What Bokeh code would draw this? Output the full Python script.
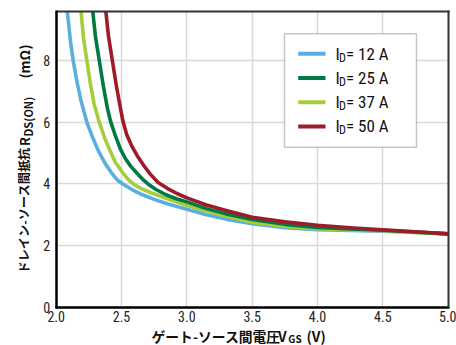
import numpy as np
from bokeh.plotting import figure
from bokeh.models import Range1d, FixedTicker, Label, BoxAnnotation, LinearAxis
from bokeh.embed import file_html
from bokeh.resources import INLINE

# ---------------- data ----------------
vgs_12 = [2.085, 2.11, 2.13, 2.16, 2.19, 2.235, 2.28, 2.32, 2.37, 2.42, 2.47, 2.51,
          2.58, 2.66, 2.75, 2.85, 3.0, 3.15, 3.3, 3.5, 3.75, 4.0, 4.25, 4.5, 4.75, 5.0]
rds_12 = [9.6, 8.6, 8.0, 7.3, 6.7, 6.0, 5.5, 5.1, 4.7, 4.38, 4.12, 4.0,
          3.82, 3.65, 3.5, 3.36, 3.18, 3.0, 2.86, 2.71, 2.58, 2.52, 2.49, 2.47, 2.43, 2.38]

vgs_37 = [2.19, 2.21, 2.235, 2.26, 2.29, 2.33, 2.37, 2.41, 2.45, 2.50, 2.55, 2.60,
          2.66, 2.73, 2.82, 2.92, 3.0, 3.15, 3.3, 3.5, 3.75, 4.0, 4.25, 4.5, 4.75, 5.0]
rds_37 = [9.6, 8.7, 8.0, 7.3, 6.6, 6.0, 5.5, 5.1, 4.72, 4.42, 4.15, 3.97,
          3.83, 3.71, 3.57, 3.42, 3.31, 3.12, 2.95, 2.76, 2.62, 2.55, 2.51, 2.48, 2.43, 2.38]

vgs_25 = [2.28, 2.30, 2.33, 2.36, 2.39, 2.415, 2.45, 2.49, 2.53, 2.57, 2.62, 2.66,
          2.70, 2.76, 2.84, 2.92, 3.0, 3.15, 3.3, 3.5, 3.75, 4.0, 4.25, 4.5, 4.75, 5.0]
rds_25 = [9.6, 8.8, 8.0, 7.2, 6.5, 6.05, 5.6, 5.15, 4.82, 4.58, 4.34, 4.16,
          4.01, 3.83, 3.65, 3.52, 3.42, 3.2, 3.03, 2.85, 2.69, 2.59, 2.54, 2.5, 2.44, 2.38]

vgs_50 = [2.38, 2.40, 2.43, 2.46, 2.49, 2.51, 2.54, 2.58, 2.62, 2.67, 2.72, 2.78,
          2.85, 2.92, 3.0, 3.15, 3.3, 3.5, 3.75, 4.0, 4.25, 4.5, 4.75, 5.0]
rds_50 = [9.6, 8.8, 8.0, 7.2, 6.5, 6.05, 5.6, 5.22, 4.92, 4.6, 4.32, 4.05,
          3.86, 3.7, 3.55, 3.32, 3.14, 2.92, 2.77, 2.66, 2.58, 2.51, 2.45, 2.38]

legend_currents = ["12 A", "25 A", "37 A", "50 A"]
x_ticks = [2.0, 2.5, 3.0, 3.5, 4.0, 4.5, 5.0]
x_tick_labels = ["2.0", "2.5", "3.0", "3.5", "4.0", "4.5", "5.0"]
y_ticks = [0, 2, 4, 6, 8]
y_tick_labels = ["0", "2", "4", "6", "8"]

# ---------------- styles / layout ----------------
C12, C25, C37, C50 = "#5AAEE0", "#007A45", "#A6CD39", "#9D1C2B"
legend_colors = [C12, C25, C37, C50]
LATIN = "Roboto Condensed"
CJK = "Noto Sans CJK JP"

PW, PH = 456, 345
X0, X1, Y0, Y1 = 2.0, 5.0, 0.0, 9.6
FL, FR, FT, FB = 55.7, 447.7, 11.0, 306.7  # data-box edges in pixels
xpp = (X1 - X0) / (FR - FL)
ypp = (Y1 - Y0) / (FB - FT)


def dx(px):  # pixel -> data x
    return X0 + (px - FL) * xpp


def dy(py):  # pixel -> data y
    return Y0 + (FB - py) * ypp


p = figure(width=PW, height=PH, output_backend="svg", toolbar_location=None,
           x_range=Range1d(X0 - FL * xpp, X1 + (PW - FR) * xpp),
           y_range=Range1d(Y0 - (PH - FB) * ypp, Y1 + FT * ypp),
           min_border=0)
p.background_fill_color = "white"
p.border_fill_color = "white"
p.outline_line_color = None

# main axes, fixed at the data box edges
p.xaxis.fixed_location = Y0
p.yaxis.fixed_location = X0
p.xaxis.bounds = (X0 - 1.2 * xpp, X1 + 1.0 * xpp)
p.yaxis.bounds = (Y0 - 1.2 * ypp, Y1 + 1.0 * ypp)
for ax in (p.xaxis, p.yaxis):
    ax.axis_line_color = "black"
    ax.axis_line_width = 2.5
    ax.major_tick_in = 0
    ax.major_tick_out = 0
    ax.minor_tick_in = 0
    ax.minor_tick_out = 0
    ax.major_label_text_font = LATIN
    ax.major_label_text_font_size = "14px"
    ax.major_label_text_color = "#222222"
p.xaxis.ticker = FixedTicker(ticks=x_ticks)
p.yaxis.ticker = FixedTicker(ticks=y_ticks)
p.xaxis.major_label_overrides = dict(zip(x_ticks, x_tick_labels))
p.yaxis.major_label_overrides = dict(zip(y_ticks, y_tick_labels))
p.xaxis.major_label_standoff = 4
p.yaxis.major_label_standoff = 6

# top / right border lines as label-less axes
top_ax = LinearAxis(fixed_location=Y1, bounds=(X0, X1 + 1.0 * xpp), ticker=FixedTicker(ticks=[]))
right_ax = LinearAxis(fixed_location=X1, bounds=(Y0, Y1 + 1.0 * ypp), ticker=FixedTicker(ticks=[]))
for ax in (top_ax, right_ax):
    ax.axis_line_color = "#333333"
    ax.axis_line_width = 2
    ax.major_tick_in = 0
    ax.major_tick_out = 0
    ax.minor_tick_in = 0
    ax.minor_tick_out = 0
    ax.major_label_text_alpha = 0
p.add_layout(top_ax, "above")
p.add_layout(right_ax, "right")

# grid
p.xgrid.ticker = FixedTicker(ticks=x_ticks)
p.ygrid.ticker = FixedTicker(ticks=y_ticks)
p.grid.grid_line_color = "#d9d9d9"
p.grid.grid_line_width = 1.5
p.xgrid.cross_bounds = (Y0, Y1)
p.ygrid.cross_bounds = (X0, X1)

# legend box (under the glyphs, above the grid)
box = BoxAnnotation(left=dx(284), right=dx(416), top=dy(33.3), bottom=dy(146.7),
                    fill_color="white", fill_alpha=1.0,
                    line_color="#444444", line_width=1.5, level="underlay")
p.add_layout(box)

# curves
for xs, ys, c in [(vgs_12, rds_12, C12), (vgs_37, rds_37, C37),
                  (vgs_25, rds_25, C25), (vgs_50, rds_50, C50)]:
    p.line(xs, ys, line_color=c, line_width=3.6, line_join="round")

# legend entries
row_y = [53.3 + 24.2 * i for i in range(4)]
p.segment(x0=[dx(297.7)] * 4, x1=[dx(325)] * 4, y0=[dy(y) for y in row_y],
          y1=[dy(y) for y in row_y], line_color=legend_colors, line_width=4)
for yy, cur in zip(row_y, legend_currents):
    p.add_layout(Label(x=dx(335), y=dy(yy), text="I", text_font=LATIN, text_font_size="17px",
                       text_align="left", text_baseline="middle", text_color="#111111"))
    p.add_layout(Label(x=dx(338.6), y=dy(yy + 4), text="D", text_font=LATIN, text_font_size="12px",
                       text_align="left", text_baseline="middle", text_color="#111111"))
    p.add_layout(Label(x=dx(345.5), y=dy(yy), text="= " + cur, text_font=LATIN, text_font_size="17px",
                       text_align="left", text_baseline="middle", text_color="#111111"))

# x axis title
xt = dict(text_font=CJK, text_font_style="bold", text_align="left",
          text_baseline="middle", text_color="#111111")
p.add_layout(Label(x=dx(151), y=dy(335), text="ゲート-ソース間電圧", text_font_size="13.8px", **xt))
p.add_layout(Label(x=dx(277.5), y=dy(335), text="V", text_font_size="14px", **xt))
p.add_layout(Label(x=dx(287.8), y=dy(337.5), text="GS", text_font_size="10px", **xt))
p.add_layout(Label(x=dx(306), y=dy(335), text="(V)", text_font_size="14px", **xt))

# y axis title (rotated)
yt = dict(text_font=CJK, text_font_style="bold", text_align="left", angle=np.pi / 2,
          text_baseline="middle", text_color="#111111")
p.add_layout(Label(x=dx(23.5), y=dy(273), text="ドレイン-ソース間抵抗", text_font_size="12.2px", **yt))
p.add_layout(Label(x=dx(23.5), y=dy(145.5), text="R", text_font_size="13px", **yt))
p.add_layout(Label(x=dx(27.5), y=dy(136), text="DS(ON)", text_font_size="11px", **yt))
p.add_layout(Label(x=dx(23.5), y=dy(78), text="(mΩ)", text_font_size="13.5px", **yt))

open("out.html", "w").write(file_html(p, INLINE))
